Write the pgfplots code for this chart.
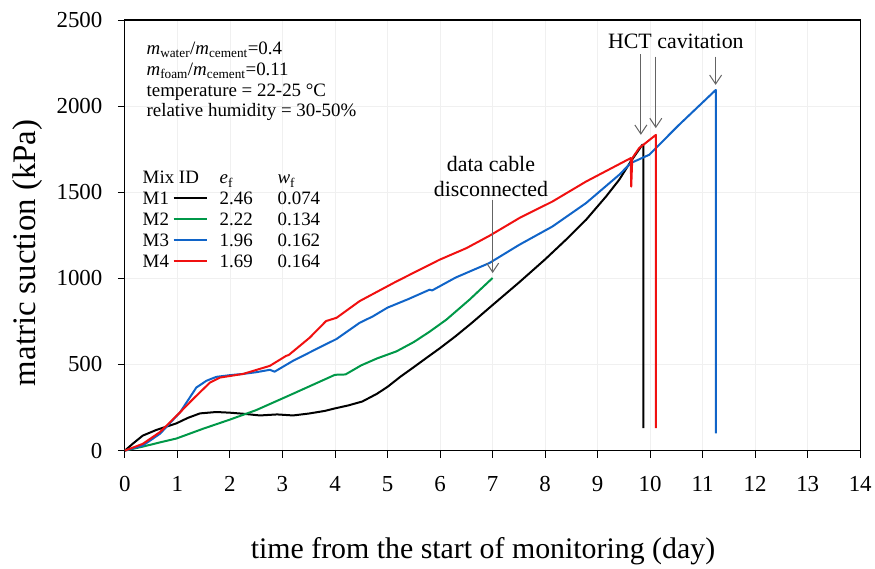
\documentclass[border=0pt]{standalone}
\usepackage{fontspec}
\setmainfont{Liberation Serif}
\usepackage{pgfplots}
\pgfplotsset{compat=1.18}
\usepackage{pgfplotstable}
\usetikzlibrary{arrows.meta}
\definecolor{mgreen}{RGB}{0,152,72}
\definecolor{mblue}{RGB}{16,100,200}
\definecolor{mred}{RGB}{240,16,16}
\definecolor{arrgray}{RGB}{100,100,100}

\pgfplotstableread{
x y
0 0
0.15 40
0.34 87
0.6 120
0.98 158
1.2 190
1.43 216
1.74 224
2.0 220
2.25 214
2.57 204
2.9 210
3.2 204
3.5 215
3.8 230
4.0 245
4.25 262
4.52 285
4.8 330
5.0 370
5.25 430
5.48 480
5.75 540
6.0 595
6.3 665
6.6 740
7.0 845
7.5 975
8.0 1110
8.4 1225
8.78 1340
9.16 1475
9.41 1572
9.63 1678
9.85 1775
9.87 1775
9.87 130
}\mone

\pgfplotstableread{
x y
0 0
0.34 23
0.7 50
0.98 70
1.49 127
2.0 180
2.5 235
3.2 330
3.6 385
4.0 440
4.2 442
4.5 495
4.8 535
5.17 576
5.5 630
5.8 690
6.12 760
6.56 876
7.0 1002
}\mtwo

\pgfplotstableread{
x y
0 0
0.34 29
0.67 98
1.05 222
1.36 366
1.55 405
1.74 428
2.0 438
2.25 445
2.5 455
2.76 469
2.85 458
3.2 521
3.7 598
4.03 648
4.47 742
4.72 779
5.0 830
5.4 880
5.8 934
5.85 930
6.3 1005
6.94 1089
7.51 1195
8.14 1301
8.78 1437
9.41 1601
9.63 1669
9.98 1717
10.55 1891
11.25 2094
11.25 100
}\mthree

\pgfplotstableread{
x y
0 0
0.34 39
0.67 108
1.05 222
1.3 300
1.62 395
1.81 424
2.25 445
2.76 492
3.07 550
3.12 555
3.52 656
3.83 752
4.03 771
4.47 868
5.17 982
5.99 1108
6.5 1175
6.94 1247
7.51 1350
8.14 1446
8.78 1562
9.63 1698
9.64 1533
9.66 1698
9.79 1756
10.11 1833
10.11 130
}\mfour

\begin{document}
\begin{tikzpicture}
\begin{axis}[
  scale only axis,
  width=736bp, height=431bp,
  xmin=0, xmax=14, ymin=0, ymax=2500,
  xtick={0,1,...,14}, ytick={0,500,...,2500},
  tick pos=left,
  tick align=outside,
  major tick length=7bp,
  tick style={black, line width=0.9bp},
  axis line style={black, line width=1.1bp},
  grid=major,
  grid style={gray!12, line width=0.8bp},
  /pgf/number format/assume math mode=true,
  /pgf/number format/1000 sep={},
  ticklabel style={font=\fontsize{23}{26}\selectfont},
  xticklabel style={yshift=-15bp},
  yticklabel style={xshift=-12bp},
  xlabel={time from the start of monitoring (day)},
  ylabel={matric suction (kPa)},
  xlabel style={font=\fontsize{30}{34}\selectfont, at={(axis description cs:0.487,-0.2506)}, anchor=base},
  ylabel style={font=\fontsize{33}{36}\selectfont, at={(axis description cs:-0.132,0.459)}, anchor=center},
  every axis plot/.append style={line width=2bp, line join=round},
  clip=false,
]
\addplot[black, no markers] table[x=x,y=y] {\mone};
\addplot[mgreen, no markers] table[x=x,y=y] {\mtwo};
\addplot[mblue, no markers] table[x=x,y=y] {\mthree};
\addplot[mred, no markers] table[x=x,y=y] {\mfour};

\node[anchor=base west, inner sep=0pt, font=\fontsize{19}{20.7}\selectfont] at (axis cs:0.41,2297) {%
  \begin{tabular}[t]{@{}l@{}}
  \textit{m}\textsubscript{water}/\textit{m}\textsubscript{cement}=0.4\\
  \textit{m}\textsubscript{foam}/\textit{m}\textsubscript{cement}=0.11\\
  temperature = 22-25 °C\\
  relative humidity = 30-50\%
  \end{tabular}};

\node[anchor=base west, inner sep=0pt, font=\fontsize{19}{21}\selectfont] at (axis cs:0.336,1549) {%
  \begin{tabular}[t]{@{}p{77bp}@{}p{58bp}@{}l@{}}
  Mix ID & \textit{e}\textsubscript{f} & \textit{w}\textsubscript{f}\\
  M1 \textcolor{black}{\rule[0.28em]{33bp}{2bp}} & 2.46 & 0.074\\
  M2 \textcolor{mgreen}{\rule[0.28em]{33bp}{2bp}} & 2.22 & 0.134\\
  M3 \textcolor{mblue}{\rule[0.28em]{33bp}{2bp}} & 1.96 & 0.162\\
  M4 \textcolor{mred}{\rule[0.28em]{33bp}{2bp}} & 1.69 & 0.164
  \end{tabular}};

\node[anchor=base, inner sep=0pt, font=\fontsize{22}{24}\selectfont] at (axis cs:10.49,2336) {HCT cavitation};
\node[anchor=base, inner sep=0pt, font=\fontsize{22}{24}\selectfont] at (axis cs:6.97,1620) {data cable};
\node[anchor=base, inner sep=0pt, font=\fontsize{22}{24}\selectfont] at (axis cs:6.97,1475) {disconnected};

\draw[arrgray, line width=1bp, -{Straight Barb[length=9bp,width=12bp]}] (axis cs:9.823,2300) -- (axis cs:9.823,1833);
\draw[arrgray, line width=1bp, -{Straight Barb[length=9bp,width=12bp]}] (axis cs:10.108,2287) -- (axis cs:10.108,1872);
\draw[arrgray, line width=1bp, -{Straight Barb[length=9bp,width=12bp]}] (axis cs:11.247,2287) -- (axis cs:11.247,2123);
\draw[arrgray, line width=1bp, -{Straight Barb[length=9bp,width=12bp]}] (axis cs:7.002,1456) -- (axis cs:7.002,1031);
\end{axis}
\path ([xshift=-125bp,yshift=-115bp]current axis.south west) rectangle ([xshift=14bp,yshift=20bp]current axis.north east);
\end{tikzpicture}
\end{document}
